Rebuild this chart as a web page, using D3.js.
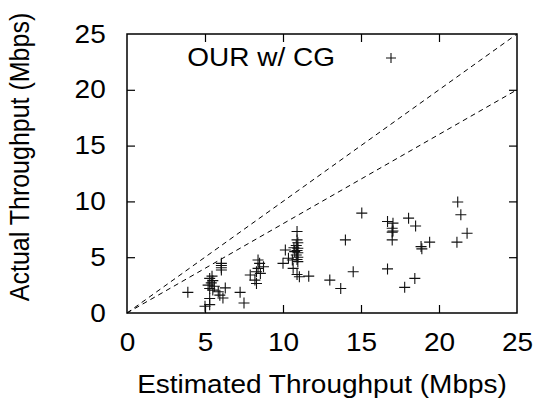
<!DOCTYPE html>
<html>
<head>
<meta charset="utf-8">
<script src="https://cdn.jsdelivr.net/npm/d3@7"></script>
<style>
  body { margin: 0; background: #fff; }
  text { font-family: "Liberation Sans", Arial, Helvetica, sans-serif; fill: #000; }
</style>
</head>
<body>
<script>
// estimated vs actual throughput (Mbps)
const estimated = [3.9, 5.0, 5.3, 5.3, 5.5, 5.3, 5.6, 5.2, 5.4, 5.5, 5.3, 5.45, 5.95, 6.15, 5.85, 6.3,
  6.05, 6.05, 6.05, 6.05, 7.25, 7.5, 7.9, 8.3, 8.2, 8.3, 8.55, 8.4, 8.5, 8.75, 8.4,
  10.15, 10.0, 10.35, 10.65, 10.9, 10.9, 10.95, 10.85, 10.95, 10.9, 10.95, 10.85, 10.95, 10.9, 10.95,
  10.7, 10.75, 10.6, 10.9, 11.05, 11.65, 13.0, 13.7, 14.5, 14.0, 15.05, 16.7, 16.7, 17.05, 17.0,
  17.05, 17.0, 17.0, 17.8, 18.05, 18.5, 18.45, 18.85, 18.9, 19.4, 21.15, 21.2, 21.4, 21.8];
const actual = [1.85, 0.6, 0.75, 1.3, 2.05, 2.2, 2.4, 2.5, 2.7, 2.9, 3.1, 3.3, 1.6, 1.35, 1.9, 2.25,
  4.45, 4.25, 4.05, 3.85, 1.85, 0.9, 3.4, 3.7, 2.95, 2.65, 3.55, 4.0, 4.45, 4.15, 4.75,
  5.65, 4.45, 4.9, 4.0, 7.3, 6.55, 6.3, 6.05, 5.8, 5.6, 5.4, 5.2, 5.0, 4.8, 4.6,
  5.85, 5.5, 4.75, 3.45, 3.25, 3.3, 2.95, 2.2, 3.7, 6.55, 8.95, 8.2, 3.95, 8.05, 7.6,
  7.35, 7.25, 6.55, 2.3, 8.5, 7.8, 3.1, 5.95, 5.75, 6.35, 6.35, 9.95, 8.8, 7.15];
const ticks = [0, 5, 10, 15, 20, 25];
const refSlopes = [1, 0.8];   // dashed reference lines y = x and y = 0.8x
const legendLabel = 'OUR w/ CG';

const W = 538, H = 405;
const margin = { top: 34, right: 21, bottom: 92, left: 127 };
const stretch = 1.12; // text in the original is a bit wider than tall

const svg = d3.select('body').append('svg')
    .attr('width', W)
    .attr('height', H);

const x = d3.scaleLinear().domain([0, 25]).range([margin.left, W - margin.right]);
const y = d3.scaleLinear().domain([0, 25]).range([H - margin.bottom, margin.top]);

// axes with inward ticks on all four sides
const tickLen = 8;
const xBottom = svg.append('g')
    .attr('transform', `translate(0,${y(0)})`)
    .call(d3.axisBottom(x).tickValues(ticks).tickSize(-tickLen).tickPadding(20));
const yLeft = svg.append('g')
    .attr('transform', `translate(${x(0)},0)`)
    .call(d3.axisLeft(y).tickValues(ticks).tickSize(-tickLen).tickPadding(19));
svg.append('g')
    .attr('transform', `translate(0,${y(25)})`)
    .call(d3.axisTop(x).tickValues(ticks.slice(1, -1)).tickSize(-tickLen).tickFormat(''));
svg.append('g')
    .attr('transform', `translate(${x(25)},0)`)
    .call(d3.axisRight(y).tickValues(ticks.slice(1, -1)).tickSize(-tickLen).tickFormat(''));

svg.selectAll('.domain').remove();
svg.selectAll('.tick line').attr('stroke', '#000').attr('stroke-width', 1.2);
[xBottom, yLeft].forEach(g => g.selectAll('.tick').filter(d => d === 0 || d === 25).select('line').remove());

xBottom.selectAll('text')
    .attr('font-size', 25)
    .attr('font-family', '"Liberation Sans", Arial, sans-serif')
    .attr('transform', `scale(${stretch},1)`);
yLeft.selectAll('text')
    .attr('font-size', 25)
    .attr('font-family', '"Liberation Sans", Arial, sans-serif')
    .attr('transform', `scale(${stretch},1)`);

// frame
svg.append('rect')
    .attr('x', x(0))
    .attr('y', y(25))
    .attr('width', x(25) - x(0))
    .attr('height', y(0) - y(25))
    .attr('fill', 'none')
    .attr('stroke', '#000')
    .attr('stroke-width', 1.5);

// dashed reference lines
svg.selectAll('.ref')
    .data(refSlopes)
    .enter().append('line')
    .attr('class', 'ref')
    .attr('x1', x(0))
    .attr('y1', y(0))
    .attr('x2', x(25))
    .attr('y2', d => y(25 * d))
    .attr('stroke', '#000')
    .attr('stroke-width', 1)
    .attr('stroke-dasharray', '5,4');

// plus markers
const plus = (sel, s) => sel.append('path')
    .attr('d', `M${-s},0H${s}M0,${-s}V${s}`)
    .attr('fill', 'none')
    .attr('stroke', '#111')
    .attr('stroke-width', 1.1);

const pts = estimated.map((e, i) => ({ e, a: actual[i] }));
svg.selectAll('.pt')
    .data(pts)
    .enter().append('g')
    .attr('class', 'pt')
    .attr('transform', d => `translate(${x(d.e)},${y(d.a)})`)
    .each(function () { plus(d3.select(this), 5.5); });

// legend
svg.append('text')
    .attr('transform', `translate(335,66) scale(${stretch},1)`)
    .attr('text-anchor', 'end')
    .attr('font-size', 25)
    .text(legendLabel);
plus(svg.append('g').attr('transform', 'translate(391,58)'), 5);

// axis titles
svg.append('text')
    .attr('transform', `translate(322,393) scale(${stretch},1)`)
    .attr('text-anchor', 'middle')
    .attr('font-size', 25)
    .text('Estimated Throughput (Mbps)');
svg.append('text')
    .attr('transform', `translate(29,157) scale(${stretch},1) rotate(-90)`)
    .attr('text-anchor', 'middle')
    .attr('font-size', 25)
    .text('Actual Throughput (Mbps)');
</script>
</body>
</html>
